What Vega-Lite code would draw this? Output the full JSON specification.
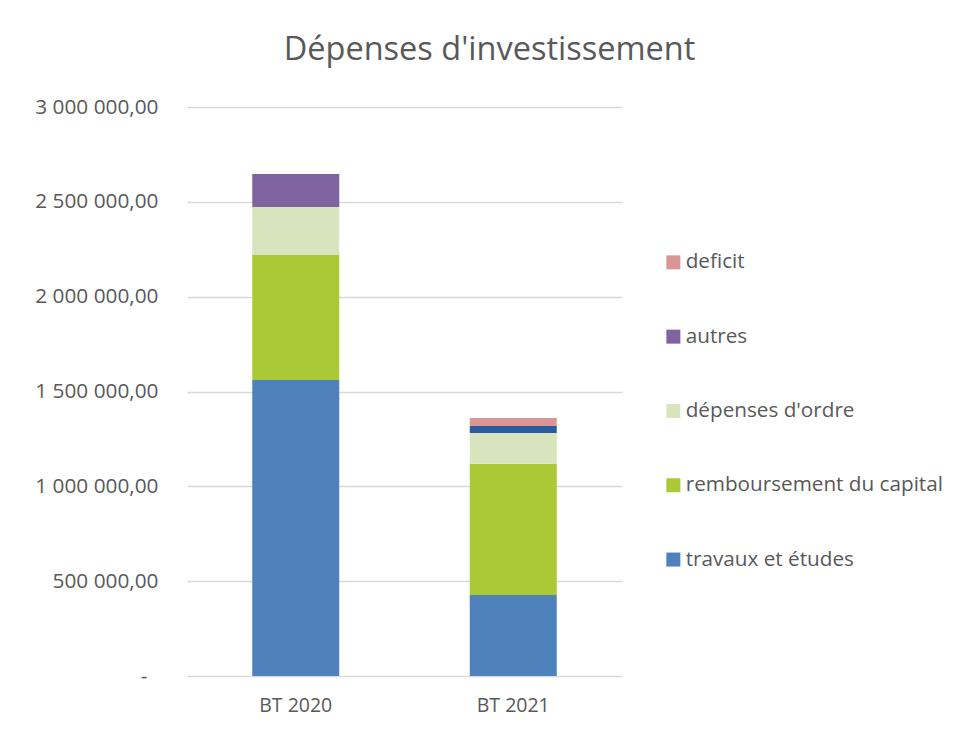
{
  "$schema": "https://vega.github.io/schema/vega-lite/v6.json",
  "width": 435,
  "height": 569,
  "autosize": {"type": "none"},
  "padding": {"left": 187, "top": 107, "right": 338, "bottom": 57},
  "background": "white",
  "title": {
    "text": "Dépenses d'investissement",
    "fontSize": 32.5,
    "font": "Open Sans",
    "fontWeight": "normal",
    "color": "#595959",
    "anchor": "middle",
    "dx": 85,
    "offset": 30
  },
  "data": {
    "values": [
      {"budget": "BT 2020", "serie": "travaux et études", "ordre": 1, "montant": 1561000},
      {"budget": "BT 2020", "serie": "remboursement du capital", "ordre": 2, "montant": 659000},
      {"budget": "BT 2020", "serie": "dépenses d'ordre", "ordre": 3, "montant": 253000},
      {"budget": "BT 2020", "serie": "autres", "ordre": 4, "montant": 174000},
      {"budget": "BT 2020", "serie": "non légendé", "ordre": 5, "montant": 0},
      {"budget": "BT 2020", "serie": "deficit", "ordre": 6, "montant": 0},
      {"budget": "BT 2021", "serie": "travaux et études", "ordre": 1, "montant": 427000},
      {"budget": "BT 2021", "serie": "remboursement du capital", "ordre": 2, "montant": 692000},
      {"budget": "BT 2021", "serie": "dépenses d'ordre", "ordre": 3, "montant": 162000},
      {"budget": "BT 2021", "serie": "autres", "ordre": 4, "montant": 0},
      {"budget": "BT 2021", "serie": "non légendé", "ordre": 5, "montant": 37000},
      {"budget": "BT 2021", "serie": "deficit", "ordre": 6, "montant": 42000}
    ]
  },
  "mark": {"type": "bar"},
  "encoding": {
    "x": {
      "field": "budget",
      "type": "nominal",
      "scale": {"paddingInner": 0.6, "paddingOuter": 0.3},
      "axis": {
        "title": null,
        "labelAngle": 0,
        "domain": false,
        "ticks": false,
        "labelFontSize": 19.5,
        "labelColor": "#595959",
        "labelPadding": 20,
        "labelFont": "Open Sans"
      }
    },
    "y": {
      "field": "montant",
      "type": "quantitative",
      "stack": "zero",
      "scale": {"domain": [0, 3000000], "nice": false},
      "axis": {
        "title": null,
        "values": [0, 500000, 1000000, 1500000, 2000000, 2500000, 3000000],
        "format": ",.2f",
        "labelExpr": "datum.value === 0 ? '-' : datum.label",
        "labelPadding": {"condition": {"test": "datum.value === 0", "value": 40}, "value": 29},
        "grid": true,
        "gridColor": "#D9D9D9",
        "gridWidth": 1.5,
        "domain": false,
        "ticks": false,
        "labelFontSize": 20.8,
        "labelColor": "#595959",
        "labelFont": "Open Sans"
      }
    },
    "color": {
      "field": "serie",
      "type": "nominal",
      "scale": {
        "domain": ["deficit", "autres", "dépenses d'ordre", "remboursement du capital", "travaux et études", "non légendé"],
        "range": ["#DA9694", "#8064A2", "#D7E4BD", "#ABC837", "#4F81BD", "#2B5CA2"]
      },
      "legend": {
        "title": null,
        "orient": "none",
        "legendX": 476,
        "legendY": 145,
        "values": ["deficit", "autres", "dépenses d'ordre", "remboursement du capital", "travaux et études"],
        "symbolType": "square",
        "symbolSize": 196,
        "symbolStrokeWidth": 0,
        "labelFontSize": 20.7,
        "labelColor": "#595959",
        "labelFont": "Open Sans",
        "labelOffset": 2,
        "rowPadding": 52.3,
        "labelLimit": 400
      }
    },
    "order": {"field": "ordre", "type": "quantitative"}
  },
  "config": {
    "view": {"stroke": null},
    "font": "Open Sans",
    "locale": {
      "number": {"decimal": ",", "thousands": " ", "grouping": [3], "currency": ["", " €"]}
    }
  }
}
